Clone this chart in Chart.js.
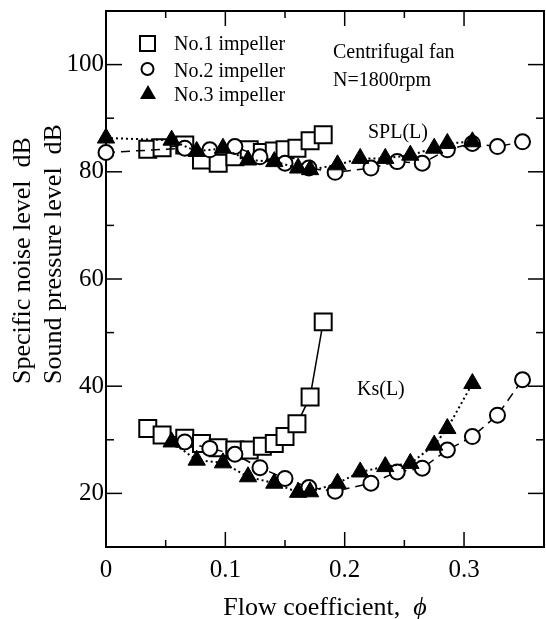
<!DOCTYPE html>
<html>
<head>
<meta charset="utf-8">
<script src="https://cdn.jsdelivr.net/npm/chart.js@4.4.1/dist/chart.umd.min.js"></script>
<style>
  html, body { margin: 0; padding: 0; background: #fff; }
  #wrap { width: 546px; height: 619px; }
</style>
</head>
<body>
<div id="wrap"><canvas id="fanChart" width="546" height="619"></canvas></div>
<script>
// No.1 impeller (squares)
const phi1 = [0.035, 0.047, 0.066, 0.08, 0.094, 0.108, 0.12, 0.131, 0.141, 0.150, 0.160, 0.171, 0.182];
const spl1 = [84.2, 84.5, 85.0, 82.2, 81.6, 82.8, 84.1, 83.6, 83.9, 84.1, 84.4, 85.8, 86.9];
const ks1  = [32.1, 30.9, 30.3, 29.3, 28.5, 28.1, 28.1, 28.8, 29.3, 30.6, 33.0, 38.0, 52.0];

// No.2 impeller (circles)
const phi2 = [0, 0.066, 0.087, 0.108, 0.129, 0.150, 0.170, 0.192, 0.222, 0.244, 0.265, 0.286, 0.307, 0.328, 0.349];
const spl2 = [83.6, 84.4, 84.1, 84.7, 82.8, 81.6, 80.7, 79.9, 80.7, 81.9, 81.6, 84.1, 85.3, 84.7, 85.6];
const ks2  = [null, 29.6, 28.4, 27.3, 24.8, 22.8, 21.1, 20.4, 21.9, 24.0, 24.7, 28.1, 30.6, 34.6, 41.2];

// No.3 impeller (triangles)
const phi3 = [0, 0.055, 0.076, 0.098, 0.119, 0.141, 0.161, 0.171, 0.194, 0.213, 0.234, 0.255, 0.275, 0.286, 0.307];
const spl3 = [86.3, 85.9, 83.8, 84.4, 82.2, 81.9, 80.7, 80.4, 81.3, 82.5, 82.5, 83.1, 84.4, 85.3, 85.6];
const ks3  = [null, 29.6, 26.2, 25.7, 23.1, 21.9, 20.2, 20.3, 21.9, 24.0, 25.0, 25.6, 29.0, 32.1, 40.5];

// axis ticks
const xTicks = [0, 0.1, 0.2, 0.3];
const xMinor = [0.05, 0.15, 0.25];
const yTicks = [20, 40, 60, 80, 100];
const yMinor = [30, 50, 70, 90];

const serif = "'Liberation Serif', 'Times New Roman', serif";
const pts = (xs, ys) => xs.map((x, i) => ({ x, y: ys[i] }));

const tri = { pointStyle: 'triangle', pointRadius: 10, pointBackgroundColor: '#000', pointBorderColor: '#000',
  pointBorderWidth: 1, borderColor: '#000', borderWidth: 2, borderDash: [2, 3], showLine: true, clip: false };
const circ = { pointStyle: 'circle', pointRadius: 7.5, pointBackgroundColor: '#fff', pointBorderColor: '#000',
  pointBorderWidth: 2, borderColor: '#000', borderWidth: 1.5, borderDash: [9, 6], showLine: true, clip: false };
const sq = { pointStyle: 'rect', pointRadius: 12, pointBackgroundColor: '#fff', pointBorderColor: '#000',
  pointBorderWidth: 2, borderColor: '#000', borderWidth: 1.5, showLine: true, clip: false };

// frame, inward ticks, legend and labels
const decor = {
  id: 'decor',
  beforeDatasetsDraw(chart) {
    const { ctx, chartArea: a, scales: { x, y } } = chart;
    ctx.save();
    ctx.strokeStyle = '#000';
    ctx.lineWidth = 2;
    ctx.strokeRect(a.left, a.top, a.right - a.left, a.bottom - a.top);
    const line = (x1, y1, x2, y2) => { ctx.beginPath(); ctx.moveTo(x1, y1); ctx.lineTo(x2, y2); ctx.stroke(); };
    ctx.lineWidth = 1.5;
    xTicks.concat(xMinor).forEach(v => {
      const px = x.getPixelForValue(v);
      const len = xMinor.includes(v) ? 7 : 15;
      line(px, a.bottom, px, a.bottom - len);
      line(px, a.top, px, a.top + len);
    });
    yTicks.concat(yMinor).forEach(v => {
      const py = y.getPixelForValue(v);
      const len = yMinor.includes(v) ? 8 : 16;
      line(a.left, py, a.left + len, py);
      line(a.right, py, a.right - len, py);
    });
    ctx.restore();
  },
  afterDraw(chart) {
    const { ctx } = chart;
    ctx.save();
    ctx.strokeStyle = '#000';
    ctx.fillStyle = '#000';

    // legend
    ctx.lineWidth = 2;
    ctx.strokeRect(140, 36, 15, 15);
    ctx.beginPath(); ctx.arc(147.5, 69, 6, 0, Math.PI * 2); ctx.stroke();
    ctx.beginPath(); ctx.moveTo(148, 85); ctx.lineTo(156, 99); ctx.lineTo(140, 99); ctx.closePath(); ctx.fill();

    ctx.font = '20px ' + serif;
    ctx.textAlign = 'left';
    ctx.textBaseline = 'alphabetic';
    ctx.fillText('No.1 impeller', 174, 50);
    ctx.fillText('No.2 impeller', 174, 77);
    ctx.fillText('No.3 impeller', 174, 101);
    ctx.fillText('Centrifugal fan', 333, 58);
    ctx.fillText('N=1800rpm', 333, 86);
    ctx.fillText('SPL(L)', 368, 138);
    ctx.fillText('Ks(L)', 357, 395);

    // axis titles
    ctx.font = '26px ' + serif;
    ctx.save();
    ctx.translate(30, 384);
    ctx.rotate(-Math.PI / 2);
    ctx.fillText('Specific noise level  dB', 0, 0);
    ctx.restore();
    ctx.save();
    ctx.translate(61, 384);
    ctx.rotate(-Math.PI / 2);
    ctx.fillText('Sound pressure level  dB', 0, 0);
    ctx.restore();

    const t1 = 'Flow coefficient,  ';
    const w1 = ctx.measureText(t1).width;
    ctx.font = 'italic 26px ' + serif;
    const w2 = ctx.measureText('\u03D5').width;
    const sx = 325 - (w1 + w2) / 2;
    ctx.fillText('\u03D5', sx + w1, 615);
    ctx.font = '26px ' + serif;
    ctx.fillText(t1, sx, 615);
    ctx.restore();
  }
};

new Chart(document.getElementById('fanChart'), {
  type: 'scatter',
  data: {
    datasets: [
      { label: 'No.3 SPL', data: pts(phi3, spl3), ...tri },
      { label: 'No.3 Ks', data: pts(phi3, ks3), ...tri },
      { label: 'No.2 SPL', data: pts(phi2, spl2), ...circ },
      { label: 'No.2 Ks', data: pts(phi2, ks2), ...circ },
      { label: 'No.1 SPL', data: pts(phi1, spl1), ...sq },
      { label: 'No.1 Ks', data: pts(phi1, ks1), ...sq }
    ]
  },
  options: {
    responsive: false,
    animation: false,
    layout: { autoPadding: false, padding: { top: 11, right: 2, left: 0, bottom: 0 } },
    plugins: { legend: { display: false }, tooltip: { enabled: false } },
    scales: {
      x: {
        type: 'linear', min: 0, max: 0.367,
        afterBuildTicks: s => { s.ticks = xTicks.map(v => ({ value: v })); },
        afterFit: s => { s.height = 72; s.paddingLeft = 0; s.paddingRight = 0; },
        grid: { display: false, drawTicks: false },
        border: { display: false },
        ticks: { padding: 8, color: '#000', maxRotation: 0, font: { family: serif, size: 25 },
          callback: v => v === 0 ? '0' : v.toFixed(1) }
      },
      y: {
        type: 'linear', min: 10, max: 110,
        afterBuildTicks: s => { s.ticks = yTicks.map(v => ({ value: v })); },
        afterFit: s => { s.width = 106; s.paddingTop = 0; s.paddingBottom = 0; },
        grid: { display: false, drawTicks: false },
        border: { display: false },
        ticks: { padding: 2, color: '#000', font: { family: serif, size: 25 } }
      }
    }
  },
  plugins: [decor]
});
</script>
</body>
</html>
